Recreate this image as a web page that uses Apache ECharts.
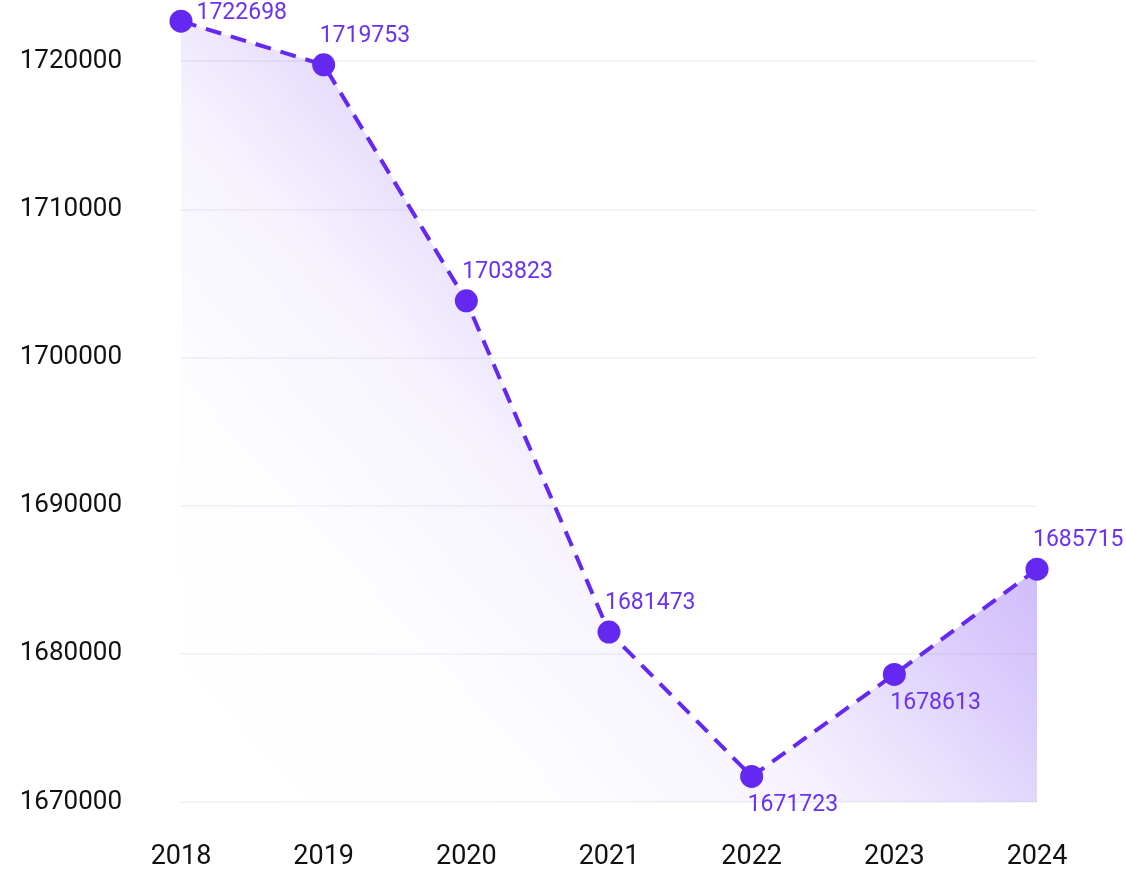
<!DOCTYPE html>
<html>
<head>
<meta charset="utf-8">
<script src="https://cdn.jsdelivr.net/npm/echarts@6/dist/echarts.min.js"></script>
<style>
  html, body { margin: 0; padding: 0; background: #fff; }
  #main { width: 1126px; height: 869px; }
</style>
</head>
<body>
<div id="main"></div>
<script>
// data
var years = ['2018', '2019', '2020', '2021', '2022', '2023', '2024'];
var values = [1722698, 1719753, 1703823, 1681473, 1671723, 1678613, 1685715];
// where each value label sits relative to its point
var labelSide = ['right', 'top', 'top', 'top', 'bottom', 'bottom', 'top'];

// axis: 1670000 .. 1720000 visible, one more step above so the first point isn't clipped
var yMin = 1670000, yMax = 1730000, yStep = 10000;

var purple = '#6428F0';

var chart = echarts.init(document.getElementById('main'), null, { renderer: 'canvas' });

var points = values.map(function (v, i) {
  var side = labelSide[i];
  return {
    value: v,
    label: {
      position: side,
      align: 'left',
      offset: side === 'right' ? [0, -8] : [-4, 0],
      distance: side === 'right' ? 4 : 6
    }
  };
});

var option = {
  backgroundColor: '#fff',
  textStyle: { fontFamily: 'Roboto' },
  // top is negative: the 1730000 row lies above the page, 1720000 lands at y=61
  grid: { left: 181, right: 89, top: -87, bottom: 67, outerBoundsMode: 'none', containLabel: false },
  xAxis: {
    type: 'category',
    boundaryGap: false,
    data: years,
    axisLine: { show: false },
    axisTick: { show: false },
    axisLabel: { color: '#111', fontSize: 27, margin: 42, fontFamily: 'Roboto' }
  },
  yAxis: {
    type: 'value',
    min: yMin,
    max: yMax,
    interval: yStep,
    axisLine: { show: false },
    axisTick: { show: false },
    axisLabel: {
      color: '#111', fontSize: 26, margin: 59, fontFamily: 'Roboto',
      formatter: function (v) { return String(v); }
    },
    splitLine: { lineStyle: { color: '#f1f1f1', width: 1.5 } }
  },
  series: [{
    type: 'line',
    data: points,
    symbol: 'circle',
    symbolSize: 23,
    itemStyle: { color: purple },
    lineStyle: { color: purple, width: 4, type: [16, 10] },
    label: {
      show: true,
      color: '#6A32F0',
      fontSize: 23,
      fontFamily: 'Roboto'
    },
    areaStyle: {
      color: new echarts.graphic.LinearGradient(1, 0, 0, 1, [
        { offset: 0, color: 'rgba(100, 40, 240, 0.65)' },
        { offset: 0.34, color: 'rgba(100, 40, 240, 0.42)' },
        { offset: 0.42, color: 'rgba(100, 40, 240, 0.32)' },
        { offset: 0.5, color: 'rgba(100, 40, 240, 0.2)' },
        { offset: 0.6, color: 'rgba(100, 40, 240, 0.08)' },
        { offset: 0.75, color: 'rgba(100, 40, 240, 0.02)' },
        { offset: 1, color: 'rgba(255, 255, 255, 0)' }
      ])
    }
  }]
};

chart.setOption(option);
</script>
</body>
</html>
